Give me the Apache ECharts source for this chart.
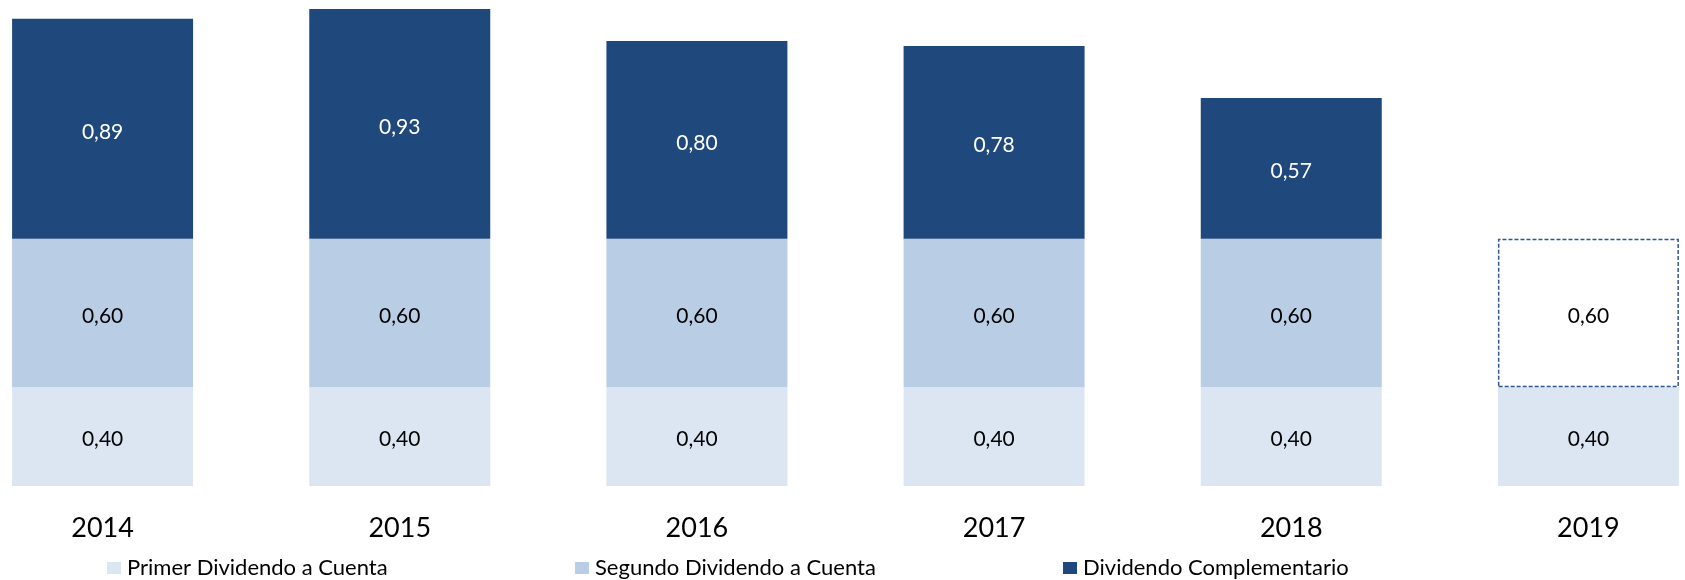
<!DOCTYPE html>
<html>
<head>
<meta charset="utf-8">
<script src="https://cdn.jsdelivr.net/npm/echarts@6/dist/echarts.min.js"></script>
<style>
html,body{margin:0;padding:0;background:#fff;overflow:hidden;width:1685px;height:580px;}
#c{position:absolute;left:-46px;top:0;width:1783px;height:580px;}
</style>
</head>
<body>
<div id="c"></div>
<script>
const categories = ['2014', '2015', '2016', '2017', '2018', '2019'];
const seriesNames = ['Primer Dividendo a Cuenta', 'Segundo Dividendo a Cuenta', 'Dividendo Complementario'];
const primerDividendo = [0.40, 0.40, 0.40, 0.40, 0.40, 0.40];
const segundoDividendo = [0.60, 0.60, 0.60, 0.60, 0.60, 0.60];
const dividendoComplementario = [0.89, 0.93, 0.80, 0.78, 0.57, null];
const estimatedIndex = 5; // 2019 second dividend shown as dashed/estimated

const colors = ['#DCE6F2', '#B9CDE5', '#1F497D'];
const FONT = 'Lato';
const OFFSET = 46; // container shifted left so category bands start off-screen

function fmt(p) {
  if (p.value === null || p.value === undefined) return '';
  return p.value.toFixed(2).replace('.', ',');
}

const segundoData = segundoDividendo.map((v, i) => i === estimatedIndex ? {
  value: v,
  itemStyle: { color: '#FFFFFF', borderColor: '#2F5597', borderWidth: 1.5, borderType: [4, 2] }
} : v);

const chart = echarts.init(document.getElementById('c'), null, { renderer: 'canvas' });

const labelBase = { show: true, position: 'inside', fontFamily: FONT, fontSize: 21, formatter: fmt, offset: [0, 3] };

chart.setOption({
  animation: false,
  backgroundColor: '#FFFFFF',
  grid: { left: 0, right: 0, top: 4, bottom: 94, containLabel: false },
  xAxis: {
    type: 'category',
    data: categories,
    axisLine: { show: false },
    axisTick: { show: false },
    axisLabel: { fontFamily: FONT, fontSize: 27, color: '#000000', margin: 29 }
  },
  yAxis: {
    type: 'value', min: 0, max: 1.95, show: false,
    splitLine: { show: false }
  },
  legend: [0, 1, 2].map((k) => ({
    data: [seriesNames[k]],
    left: [107, 575, 1063][k] + OFFSET,
    top: 557,
    itemWidth: 14,
    itemHeight: 12,
    icon: 'rect',
    itemGap: 0,
    textStyle: { fontFamily: FONT, fontSize: 22, color: '#000000', padding: [0, 0, 0, 1] },
    padding: 0
  })),
  series: [
    {
      name: seriesNames[0], type: 'bar', stack: 'd', barWidth: 181,
      data: primerDividendo,
      itemStyle: { color: colors[0] },
      label: Object.assign({}, labelBase, { color: '#000000' })
    },
    {
      name: seriesNames[1], type: 'bar', stack: 'd', barWidth: 181,
      data: segundoData,
      itemStyle: { color: colors[1] },
      label: Object.assign({}, labelBase, { color: '#000000' })
    },
    {
      name: seriesNames[2], type: 'bar', stack: 'd', barWidth: 181,
      data: dividendoComplementario,
      itemStyle: { color: colors[2] },
      label: Object.assign({}, labelBase, { color: '#FFFFFF' })
    }
  ]
});
</script>
</body>
</html>
